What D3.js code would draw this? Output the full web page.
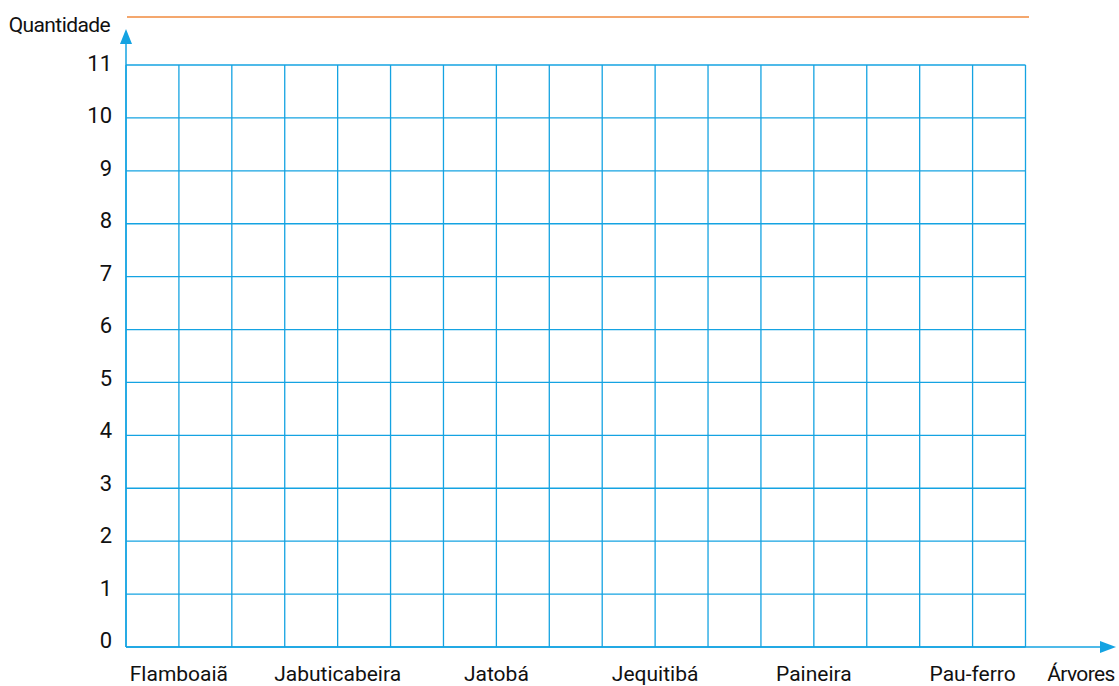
<!DOCTYPE html>
<html>
<head>
<meta charset="utf-8">
<script src="https://cdn.jsdelivr.net/npm/d3@7"></script>
<style>
  body { margin: 0; background: #fff; }
  text { font-family: "Liberation Sans Narrow", Roboto, sans-serif; fill: #111; }
</style>
</head>
<body>
<script>
// categories on the x axis (tree names), one every 3 grid columns
var categories = ["Flamboaiã", "Jabuticabeira", "Jatobá", "Jequitibá", "Paineira", "Pau-ferro"];
var categoryColumn = [1, 4, 7, 10, 13, 16];
// y axis tick values
var yTicks = [0, 1, 2, 3, 4, 5, 6, 7, 8, 9, 10, 11];
// grid column lines
var gridColumns = d3.range(0, 18);

var width = 1119,
  height = 686;

var blue = "#14a3e2";

var svg = d3.select("body").append("svg")
  .attr("width", width)
  .attr("height", height);

var x = d3.scaleLinear()
  .domain([0, 17])
  .range([126, 1025.5]);

var y = d3.scaleLinear()
  .domain([0, 11])
  .range([647, 65]);

// tick labels sit a bit off the grid lines in the original
var yLabel = d3.scaleLinear()
  .domain([0, 11])
  .range([648, 71]);

// orange line on top
svg.append("line")
  .attr("x1", 127).attr("x2", 1029)
  .attr("y1", 17).attr("y2", 17)
  .attr("stroke", "#f08a3c")
  .attr("stroke-width", 1.3);

// grid
svg.append("g").selectAll("line")
  .data(yTicks)
  .enter().append("line")
  .attr("x1", x(0)).attr("x2", x(17))
  .attr("y1", function(d) { return y(d); })
  .attr("y2", function(d) { return y(d); })
  .attr("stroke", blue)
  .attr("stroke-width", 1.3);

svg.append("g").selectAll("line")
  .data(gridColumns)
  .enter().append("line")
  .attr("x1", function(d) { return x(d); })
  .attr("x2", function(d) { return x(d); })
  .attr("y1", y(0)).attr("y2", y(11))
  .attr("stroke", blue)
  .attr("stroke-width", 1.3);

// axes with arrows
svg.append("line")
  .attr("x1", x(0)).attr("x2", x(0))
  .attr("y1", y(0)).attr("y2", 40)
  .attr("stroke", blue).attr("stroke-width", 1.5);
svg.append("path")
  .attr("d", "M" + (x(0) - 6) + ",44 L" + x(0) + ",29 L" + (x(0) + 6) + ",44 Z")
  .attr("fill", blue);

svg.append("line")
  .attr("x1", x(0)).attr("x2", 1102)
  .attr("y1", y(0)).attr("y2", y(0))
  .attr("stroke", blue).attr("stroke-width", 1.5);
svg.append("path")
  .attr("d", "M1100," + (y(0) - 6) + " L1116," + y(0) + " L1100," + (y(0) + 6) + " Z")
  .attr("fill", blue);

// y tick labels
svg.append("g").selectAll("text")
  .data(yTicks)
  .enter().append("text")
  .attr("x", 112)
  .attr("y", function(d) { return yLabel(d); })
  .attr("text-anchor", "end")
  .attr("font-size", 22)
  .text(function(d) { return d; });

// x category labels
svg.append("g").selectAll("text")
  .data(categories)
  .enter().append("text")
  .attr("x", function(d, i) { return x(categoryColumn[i]); })
  .attr("y", 681)
  .attr("text-anchor", "middle")
  .attr("font-size", 21)
  .text(function(d) { return d; });

// axis titles
svg.append("text")
  .attr("x", 110).attr("y", 32)
  .attr("text-anchor", "end")
  .attr("font-size", 21)
  .attr("letter-spacing", -0.6)
  .text("Quantidade");

svg.append("text")
  .attr("x", 1081).attr("y", 681)
  .attr("text-anchor", "middle")
  .attr("font-size", 21)
  .attr("letter-spacing", -0.6)
  .text("Árvores");
</script>
</body>
</html>
